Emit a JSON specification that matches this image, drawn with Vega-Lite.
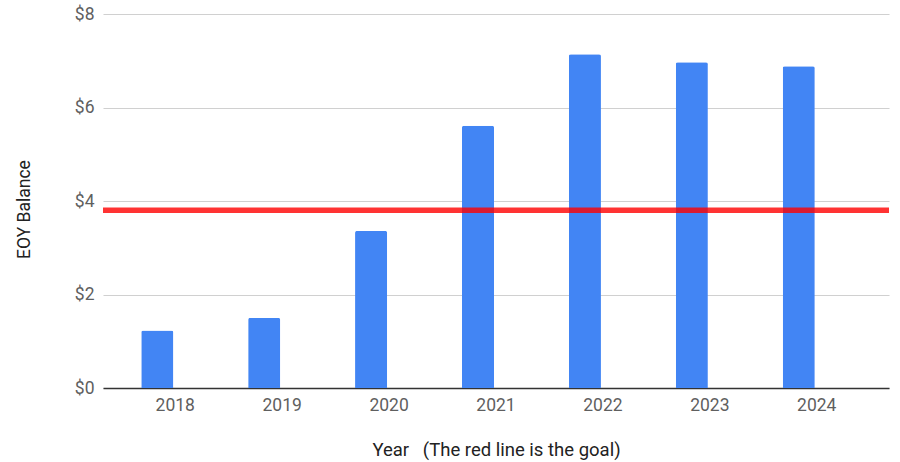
{
  "$schema": "https://vega.github.io/schema/vega-lite/v6.json",
  "autosize": "none",
  "width": 786,
  "height": 374,
  "padding": {"left": 103, "top": 14, "right": 11, "bottom": 74},
  "background": "white",
  "config": {
    "view": {"stroke": null},
    "font": "Roboto",
    "axis": {"labelFont": "Roboto", "titleFont": "Roboto", "labelColor": "#5f5f5f", "titleColor": "#222222", "titleFontWeight": "normal"}
  },
  "datasets": {
    "balance": [
      {"Year": "2018", "Balance": 1.23},
      {"Year": "2019", "Balance": 1.50},
      {"Year": "2020", "Balance": 3.36},
      {"Year": "2021", "Balance": 5.61},
      {"Year": "2022", "Balance": 7.14},
      {"Year": "2023", "Balance": 6.97},
      {"Year": "2024", "Balance": 6.88}
    ],
    "goal": [{"Goal": 3.8}]
  },
  "layer": [
    {
      "data": {"name": "balance"},
      "mark": {"type": "bar", "color": "#4285f4", "cornerRadiusTopLeft": 2, "cornerRadiusTopRight": 2},
      "encoding": {
        "x": {
          "field": "Year", "type": "ordinal",
          "scale": {"paddingInner": 0.7, "paddingOuter": 0.526, "align": 0.34},
          "axis": {
            "title": "Year\u00a0\u00a0\u00a0(The red line is the goal)",
            "titleFontSize": 18.5, "titlePadding": 27,
            "labelAngle": 0, "labelFontSize": 17.5, "labelOffset": 18, "labelPadding": 8,
            "ticks": false, "domainColor": "#333333", "domainWidth": 1.5, "grid": false
          }
        },
        "y": {
          "field": "Balance", "type": "quantitative",
          "scale": {"domain": [0, 8]},
          "axis": {
            "title": "EOY Balance", "titleFontSize": 17.5, "titlePadding": 41, "titleY": 195,
            "values": [0, 2, 4, 6, 8], "format": "$d",
            "labelFontSize": 17.5, "labelPadding": 9, "ticks": false, "domain": false,
            "gridColor": "#d0d0d0", "gridWidth": 1.2
          }
        }
      }
    },
    {
      "data": {"name": "goal"},
      "mark": {"type": "rule", "color": "#ff0000", "opacity": 0.8, "strokeWidth": 5.5},
      "encoding": {
        "y": {"field": "Goal", "type": "quantitative"}
      }
    }
  ]
}
